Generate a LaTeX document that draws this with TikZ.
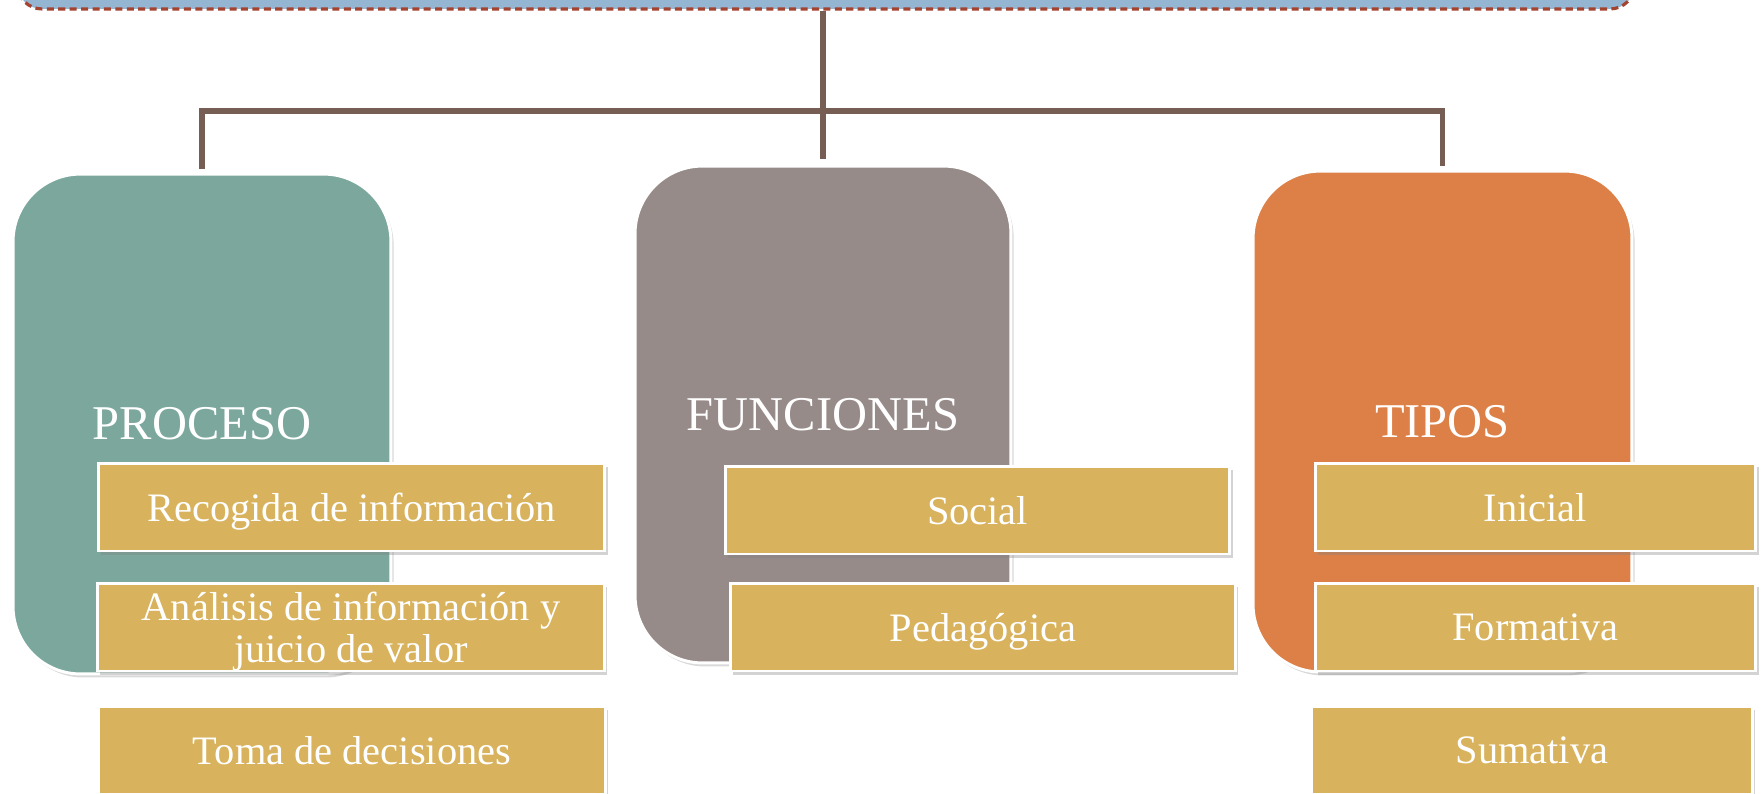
\documentclass[tikz,border=0pt]{standalone}
\usepackage{fontspec}
\setmainfont{Liberation Serif}
\usetikzlibrary{shadows}

\definecolor{cTop}{HTML}{95B6D3}
\definecolor{cDash}{HTML}{A4432F}
\definecolor{cLine}{HTML}{765E54}
\definecolor{cTeal}{HTML}{7BA79D}
\definecolor{cGray}{HTML}{968B88}
\definecolor{cOrange}{HTML}{DD8047}
\definecolor{cGold}{HTML}{D8B25C}

\tikzset{
	topbox/.style={draw=cDash, dash pattern=on 4pt off 2.5pt, line width=1.8pt, fill=cTop, rounded corners=0.5cm,
		minimum width=32.36cm, minimum height=1.56cm},
	bigbox/.style={draw=white, line width=1.7pt, rounded corners=1.35cm, text=white,
		minimum width=7.56cm, minimum height=10cm,
		font=\fontsize{27.6}{33}\selectfont,
		drop shadow={shadow xshift=1.5pt, shadow yshift=-2pt, opacity=0.3}},
	itembox/.style={draw=white, line width=1.7pt, fill=cGold, text=white,
		minimum width=10.14cm, minimum height=1.76cm, align=center, text depth=0pt,
		font=\fontsize{23}{24}\selectfont,
		drop shadow={shadow xshift=1.5pt, shadow yshift=-2pt, opacity=0.35}},
	link/.style={draw=cLine, line width=3.1pt}
}

\begin{document}
\begin{tikzpicture}[x=0.02cm, y=-0.02cm]

	% page
	\useasboundingbox (0,0) rectangle (1762,794);

	% top box
	\node[topbox] (top) at (826,-30) {};

	% big boxes
	\node[bigbox, fill=cTeal] (pro) at (202,424) {PROCESO};
	\node[bigbox, fill=cGray, minimum width=7.52cm, minimum height=9.94cm] (fun) at (823,414.5) {FUNCIONES};
	\node[bigbox, fill=cOrange, minimum width=7.58cm, minimum height=10.02cm] (tip) at (1442.5,421.5) {TIPOS};

	% connectors
	\coordinate (bar) at (0,111);
	\draw[link] (top.south -| fun.north) -- ([yshift=3pt]fun.north);
	\draw[link] ([yshift=2pt]pro.north) -- (pro.north |- bar) -- (tip.north |- bar) -- ([yshift=2pt]tip.north);

	% proceso
	\node[itembox] (rec) at (351.5,507) {Recogida de información};
	\node[itembox] (ana) at (351,627) {Análisis de información y\\juicio de valor};
	\node[itembox] (tom) at (352,750) {Toma de decisiones};

	% funciones
	\node[itembox, minimum width=10.1cm] (soc) at (977.5,510) {Social};
	\node[itembox, minimum width=10.1cm] (ped) at (983,627) {Pedagógica};

	% tipos
	\node[itembox, minimum width=8.82cm] (ini) at (1535.5,507) {Inicial};
	\node[itembox, minimum width=8.82cm] (for) at (1535.5,627) {Formativa};
	\node[itembox, minimum width=8.82cm] (sum) at (1532,750) {Sumativa};

\end{tikzpicture}
\end{document}
